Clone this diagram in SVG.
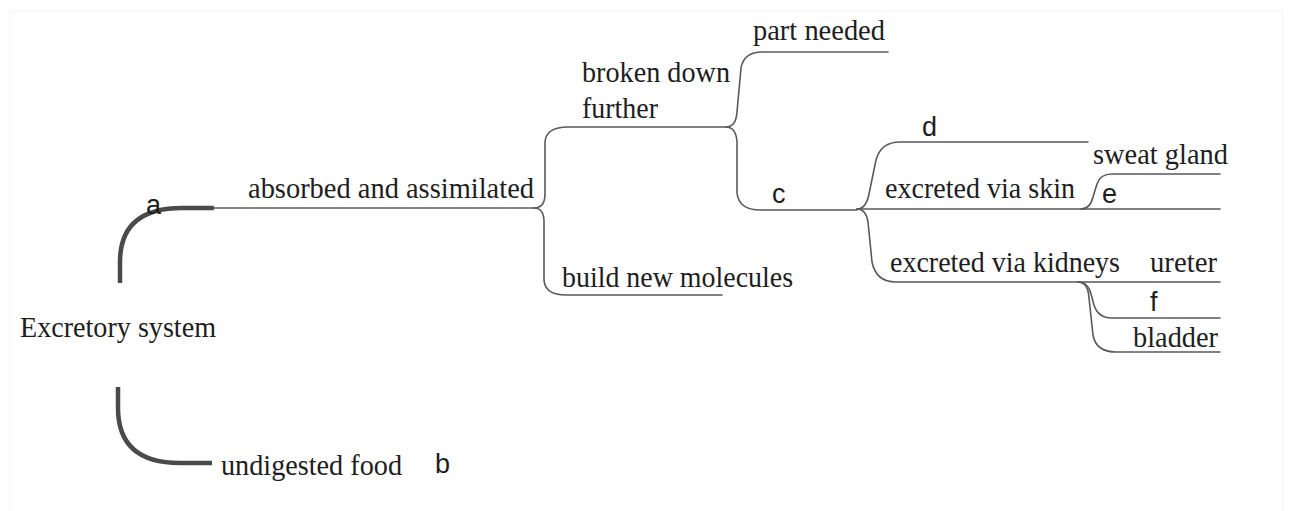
<svg xmlns="http://www.w3.org/2000/svg" width="1296" height="511" viewBox="0 0 1296 511">
  <style>
    .lbl { font-family: "Liberation Serif", "Times New Roman", serif; font-size: 30px; fill: #1e1e1e; }
    .key { font-family: "Liberation Sans", Arial, sans-serif; font-size: 27px; fill: #1e1e1e; }
    .thin { fill: none; stroke: #5a5a5a; stroke-width: 1.6; stroke-linecap: round; }
    .thick { fill: none; stroke: #4a4a4a; stroke-width: 4.5; stroke-linecap: butt; }
    .frame { fill: none; stroke: #f3f3f3; stroke-width: 1; }
  </style>

  <rect width="1296" height="511" fill="#ffffff"/>
  <path class="frame" d="M10,511 V11 H1283 V511"/>

  <!-- connectors -->
  <g id="connectors">
    <!-- root branches -->
    <path class="thick" d="M120,283 L120,262 Q120,208 182,208 L214,208"/>
    <path class="thick" d="M118,387 L118,408 Q118,463 180,463 L212,463"/>
    <path class="thin" d="M214,208 H534"/>

    <!-- from "absorbed and assimilated" -->
    <path class="thin" d="M534,208 Q545,208 545,194 V142 Q546,127 568,127 H726"/>
    <path class="thin" d="M534,208 Q544,208 544,222 V280 Q545,295 566,295 H722"/>

    <!-- from "broken down further" -->
    <path class="thin" d="M726,127 Q736,127 737,112 L741,68 Q744,52 762,52 H888"/>
    <path class="thin" d="M726,127 Q736,127 737,142 V193 Q739,210 760,210 H857"/>

    <!-- from c -->
    <path class="thin" d="M857,209 Q866,209 869,194 L876,160 Q881,142 900,142 H1088"/>
    <path class="thin" d="M857,209 H1220"/>
    <path class="thin" d="M857,209 Q866,209 868,222 L872,262 Q876,282 896,282 H1220"/>

    <!-- from "excreted via skin" -->
    <path class="thin" d="M1081,209 Q1090,209 1093,197 L1097,184 Q1100,174 1112,174 H1220"/>

    <!-- from "excreted via kidneys" -->
    <path class="thin" d="M1078,282 Q1088,282 1091,294 L1094,305 Q1098,318 1112,318 H1220"/>
    <path class="thin" d="M1078,282 Q1088,282 1089,298 L1093,335 Q1096,352 1116,352 H1220"/>
  </g>

  <!-- nodes -->
  <g id="node-root"><text class="lbl" x="20" y="337" textLength="196" lengthAdjust="spacingAndGlyphs">Excretory system</text></g>
  <g id="node-a"><text class="key" x="146" y="214">a</text></g>
  <g id="node-absorbed"><text class="lbl" x="248" y="198" textLength="286" lengthAdjust="spacingAndGlyphs">absorbed and assimilated</text></g>
  <g id="node-undigested"><text class="lbl" x="221" y="475" textLength="181" lengthAdjust="spacingAndGlyphs">undigested food</text></g>
  <g id="node-b"><text class="key" x="435" y="473">b</text></g>
  <g id="node-broken">
    <text class="lbl" x="582" y="82" textLength="148" lengthAdjust="spacingAndGlyphs">broken down</text>
    <text class="lbl" x="582" y="118" textLength="76" lengthAdjust="spacingAndGlyphs">further</text>
  </g>
  <g id="node-build"><text class="lbl" x="562" y="287" textLength="231" lengthAdjust="spacingAndGlyphs">build new molecules</text></g>
  <g id="node-part"><text class="lbl" x="753" y="40" textLength="132" lengthAdjust="spacingAndGlyphs">part needed</text></g>
  <g id="node-c"><text class="key" x="772" y="203">c</text></g>
  <g id="node-d"><text class="key" x="922" y="136">d</text></g>
  <g id="node-skin"><text class="lbl" x="885" y="198" textLength="190" lengthAdjust="spacingAndGlyphs">excreted via skin</text></g>
  <g id="node-sweat"><text class="lbl" x="1093" y="164" textLength="135" lengthAdjust="spacingAndGlyphs">sweat gland</text></g>
  <g id="node-e"><text class="key" x="1102" y="203">e</text></g>
  <g id="node-kidneys"><text class="lbl" x="890" y="272" textLength="230" lengthAdjust="spacingAndGlyphs">excreted via kidneys</text></g>
  <g id="node-ureter"><text class="lbl" x="1150" y="272" textLength="67" lengthAdjust="spacingAndGlyphs">ureter</text></g>
  <g id="node-f"><text class="key" x="1150" y="311">f</text></g>
  <g id="node-bladder"><text class="lbl" x="1133" y="347" textLength="85" lengthAdjust="spacingAndGlyphs">bladder</text></g>
</svg>
